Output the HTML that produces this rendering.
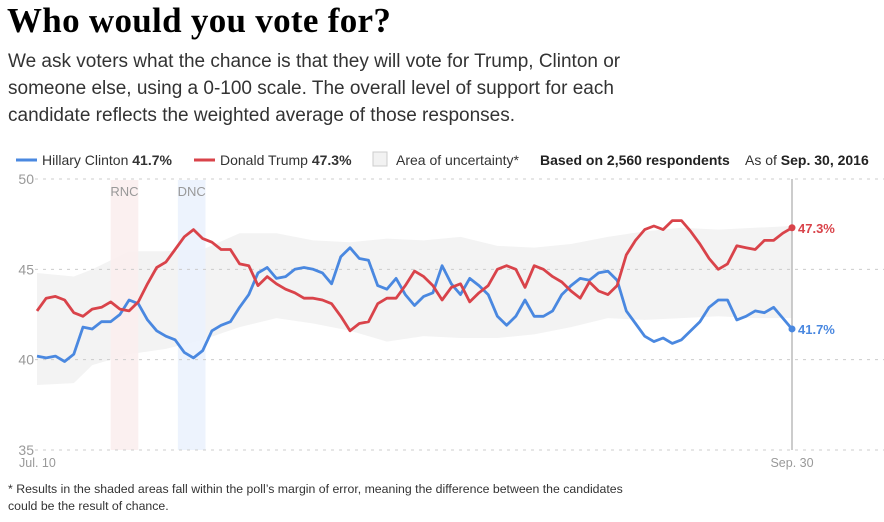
<!DOCTYPE html>
<html><head><meta charset="utf-8">
<style>
body{margin:0;background:#fff;width:884px;height:522px;overflow:hidden;font-family:"Liberation Sans",sans-serif;}
h1{position:absolute;left:7px;top:1px;margin:0;font-family:"Liberation Serif",serif;font-weight:bold;font-size:35px;color:#000;letter-spacing:0.3px;}
.desc{position:absolute;left:8px;top:48px;width:640px;font-size:19px;line-height:27px;color:#333;}
svg{position:absolute;left:0;top:0;}
.foot{position:absolute;left:8px;top:481px;font-size:12.3px;line-height:17px;color:#333;}
</style></head><body>
<h1>Who would you vote for?</h1>
<div class="desc">We ask voters what the chance is that they will vote for Trump, Clinton or someone else, using a 0-100 scale. The overall level of support for each candidate reflects the weighted average of those responses.</div>
<svg id="chart" width="884" height="522"></svg>
<div class="foot">* Results in the shaded areas fall within the poll’s margin of error, meaning the difference between the candidates<br>could be the result of chance.</div>
<script>
const clinton=[40.2,40.1,40.2,39.9,40.3,41.8,41.7,42.1,42.1,42.5,43.3,43.1,42.2,41.6,41.3,41.1,40.4,40.1,40.5,41.6,41.9,42.1,42.9,43.6,44.8,45.1,44.5,44.6,45.0,45.1,45.0,44.8,44.2,45.7,46.2,45.6,45.5,44.1,43.9,44.5,43.6,43.0,43.5,43.7,45.2,44.2,43.6,44.5,44.1,43.6,42.4,41.9,42.4,43.3,42.4,42.4,42.7,43.6,44.1,44.5,44.4,44.8,44.9,44.4,42.7,42.0,41.3,41.0,41.2,40.9,41.1,41.6,42.1,42.9,43.3,43.3,42.2,42.4,42.7,42.6,42.9,42.3,41.7];
const trump=[42.7,43.4,43.5,43.3,42.6,42.4,42.8,42.9,43.2,42.8,42.7,43.2,44.2,45.1,45.4,46.1,46.8,47.2,46.7,46.5,46.1,46.1,45.3,45.2,44.1,44.6,44.2,43.9,43.7,43.4,43.4,43.3,43.1,42.4,41.6,42.0,42.1,43.1,43.4,43.4,44.1,44.9,44.6,44.1,43.3,44.0,44.2,43.2,43.7,44.1,45.0,45.2,45.0,44.0,45.2,45.0,44.6,44.3,43.8,43.4,44.3,43.8,43.6,44.1,45.8,46.6,47.2,47.4,47.2,47.7,47.7,47.1,46.4,45.6,45.0,45.3,46.3,46.2,46.1,46.6,46.6,47.0,47.3];
const bandDays=[0,4,6,10,14,18,22,26,30,34,38,42,46,50,54,58,62,66,70,74,78,82];
const bandUpper=[44.8,44.6,45.0,46.0,46.0,46.1,47.0,47.0,46.6,46.5,46.7,46.6,46.8,46.3,46.2,46.4,46.8,47.1,47.3,47.2,47.3,47.4];
const bandLower=[38.6,38.7,39.7,40.3,40.6,41.1,41.8,42.3,42.0,41.6,41.0,41.3,41.2,41.2,41.4,41.8,42.3,42.2,42.3,42.4,42.3,42.3];
const yTicks=[50,45,40,35];
const conventions=[{label:"RNC",start:8,end:11,color:"#fbeeee"},{label:"DNC",start:15.3,end:18.3,color:"#ebf2fd"}];
const nDays=82;
const X0=37,X1=792,Y50=179,Y35=450;
const x=d=>X0+(X1-X0)*d/nDays;
const y=v=>Y50+(50-v)*(Y35-Y50)/15;
const NS="http://www.w3.org/2000/svg";
const svg=document.getElementById('chart');
function mk(tag,attrs,parent){const e=document.createElementNS(NS,tag);for(const k in attrs)e.setAttribute(k,attrs[k]);(parent||svg).appendChild(e);return e;}
const lg=mk('g',{});


const leg=[["clinton",16,"#4a88e0","Hillary Clinton","41.7%"],["trump",194,"#d9434a","Donald Trump","47.3%"]];
leg.forEach(l=>{
  const g=mk('g',{},lg);
  
  
  mk('line',{x1:l[1],x2:l[1]+21,y1:160,y2:160,stroke:l[2],'stroke-width':3},g);
  const t=mk('text',{x:l[1]+26,y:165,'font-size':14,fill:'#333'},g);
  t.textContent=l[3]+' ';
  const b=mk('tspan',{'font-weight':'bold'},t);b.textContent=l[4];
});
const ug=mk('g',{},lg);


mk('rect',{x:373,y:152,width:14,height:14,fill:'#f2f2f2',stroke:'#ccc'},ug);
const ut=mk('text',{x:396,y:165,'font-size':14,fill:'#333'},ug);ut.textContent='Area of uncertainty*';
const rt=mk('text',{x:540,y:165,'font-size':14,fill:'#222','font-weight':'bold'},lg);rt.textContent='Based on 2,560 respondents';


const at=mk('text',{x:745,y:165,'font-size':14,fill:'#333'},lg);at.textContent='As of ';


const ab=mk('tspan',{'font-weight':'bold',fill:'#222'},at);ab.textContent='Sep. 30, 2016';
let bp='';
bandDays.forEach((d,i)=>{bp+=(i?'L':'M')+x(d)+','+y(bandUpper[i]);});
for(let i=bandDays.length-1;i>=0;i--)bp+='L'+x(bandDays[i])+','+y(bandLower[i]);
const band=mk('path',{d:bp+'Z',fill:'#f3f3f3'});


conventions.forEach(c=>{
  const r=mk('rect',{x:x(c.start),y:y(50)+1,width:x(c.end)-x(c.start),height:Y35-Y50-1,fill:c.color,opacity:0.9});
  
  
  const t=mk('text',{x:(x(c.start)+x(c.end))/2,y:y(50)+17,'font-size':13,fill:'#999','text-anchor':'middle'});
  t.textContent=c.label;
  
  
});
yTicks.forEach(v=>{
  const l=mk('line',{x1:35,x2:884,y1:y(v),y2:y(v),stroke:'#ccc','stroke-dasharray':'3,5','stroke-width':1});
  
  
  const t=mk('text',{x:34,y:y(v)+5,'font-size':14,fill:'#999','text-anchor':'end'});
  t.textContent=v;
  
  
});
const el=mk('line',{x1:x(nDays),x2:x(nDays),y1:y(50),y2:Y35,stroke:'#bbb','stroke-width':1.5});


const xl1=mk('text',{x:x(0)-18,y:Y35+17,'font-size':12.5,fill:'#999'});xl1.textContent='Jul. 10';


const xl2=mk('text',{x:x(nDays),y:Y35+17,'font-size':12.5,fill:'#999','text-anchor':'middle'});xl2.textContent='Sep. 30';


[[clinton,'#4a88e0','clinton'],[trump,'#d9434a','trump']].forEach(s=>{
  const d=s[0].map((v,i)=>(i?'L':'M')+x(i).toFixed(1)+','+y(v).toFixed(1)).join('');
  const p=mk('path',{d:d,fill:'none',stroke:s[1],'stroke-width':2.8,'stroke-linejoin':'round'});
  
  
  const last=s[0][s[0].length-1];
  const c=mk('circle',{cx:x(nDays),cy:y(last),r:3.5,fill:s[1]});
  
  
  const t=mk('text',{x:x(nDays)+6,y:y(last)+5,'font-size':13,'font-weight':'bold',fill:s[1]});
  t.textContent=last.toFixed(1)+'%';
  
  
});
</script>
</body></html>
